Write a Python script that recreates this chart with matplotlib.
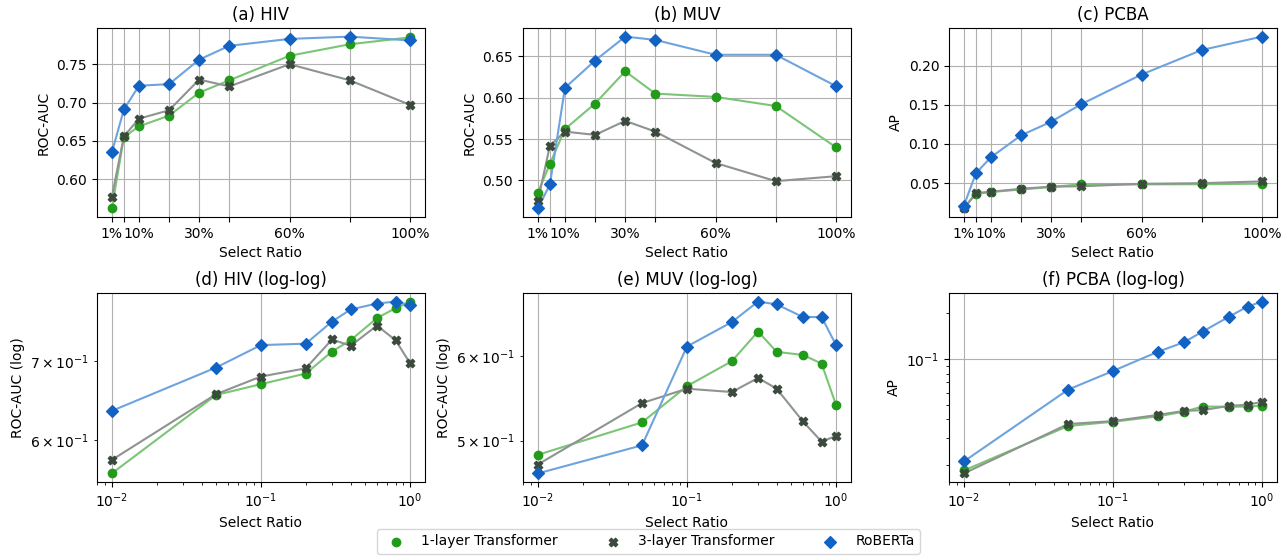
import matplotlib
matplotlib.use("Agg")
import matplotlib.pyplot as plt
import numpy as np

ratios = [0.01, 0.05, 0.1, 0.2, 0.3, 0.4, 0.6, 0.8, 1.0]
tick_labels = ["1%", "", "10%", "", "30%", "", "60%", "", "100%"]

hiv_1layer = [0.562, 0.655, 0.669, 0.683, 0.713, 0.729, 0.761, 0.776, 0.785]
hiv_3layer = [0.577, 0.656, 0.679, 0.690, 0.730, 0.721, 0.750, 0.729, 0.697]
hiv_roberta = [0.635, 0.691, 0.722, 0.724, 0.756, 0.774, 0.783, 0.786, 0.781]

muv_1layer = [0.485, 0.520, 0.562, 0.593, 0.632, 0.605, 0.601, 0.590, 0.540]
muv_3layer = [0.475, 0.542, 0.559, 0.555, 0.572, 0.559, 0.521, 0.499, 0.505]
muv_roberta = [0.466, 0.495, 0.612, 0.645, 0.674, 0.670, 0.652, 0.652, 0.614]

pcba_1layer = [0.0185, 0.0362, 0.0386, 0.0419, 0.0450, 0.0486, 0.0484, 0.0486, 0.0493]
pcba_3layer = [0.0177, 0.0373, 0.0390, 0.0428, 0.0455, 0.0460, 0.0491, 0.0499, 0.0522]
pcba_roberta = [0.0212, 0.0627, 0.0831, 0.1110, 0.1284, 0.1508, 0.1886, 0.2199, 0.2370]

models = ["1-layer Transformer", "3-layer Transformer", "RoBERTa"]
colors = ["#229a1a", "#3b4a3d", "#1262c4"]
line_colors = ["#7cc576", "#8e948f", "#6fa3de"]
markers = ["o", "X", "D"]

datasets = [
    ("HIV", "ROC-AUC", [hiv_1layer, hiv_3layer, hiv_roberta]),
    ("MUV", "ROC-AUC", [muv_1layer, muv_3layer, muv_roberta]),
    ("PCBA", "AP", [pcba_1layer, pcba_3layer, pcba_roberta]),
]

fig, axes = plt.subplots(2, 3, figsize=(12.84, 5.58), dpi=100)
fig.subplots_adjust(left=0.0755, right=0.9945, top=0.9498, bottom=0.1362,
                    wspace=0.299, hspace=0.402)

letters = "abcdef"
for col, (name, ylab, series) in enumerate(datasets):
    # linear
    ax = axes[0, col]
    for i in range(3):
        ax.plot(ratios, series[i], "-", color=line_colors[i], lw=1.5, zorder=2)
        ax.scatter(ratios, series[i], marker=markers[i], color=colors[i],
                   s=36, zorder=3, label=models[i])
    ax.set_xticks(ratios)
    ax.set_xticklabels(tick_labels)
    ax.grid(True)
    ax.set_axisbelow(True)
    ax.set_title("(%s) %s" % (letters[col], name))
    ax.set_xlabel("Select Ratio")
    ax.set_ylabel(ylab)

    # log-log
    ax = axes[1, col]
    for i in range(3):
        ax.plot(ratios, series[i], "-", color=line_colors[i], lw=1.5, zorder=2)
        ax.scatter(ratios, series[i], marker=markers[i], color=colors[i],
                   s=36, zorder=3, label=models[i])
    ax.set_xscale("log")
    ax.set_yscale("log")
    ax.grid(True)
    ax.set_axisbelow(True)
    ax.set_title("(%s) %s (log-log)" % (letters[col + 3], name))
    ax.set_xlabel("Select Ratio")
    ax.set_ylabel(ylab if ylab == "AP" else ylab + " (log)")

handles, labels = axes[0, 0].get_legend_handles_labels()
fig.legend(handles, labels, loc="lower center", ncol=3,
           bbox_to_anchor=(0.505, -0.005), columnspacing=3.0)

fig.savefig("out.png", dpi=100)
